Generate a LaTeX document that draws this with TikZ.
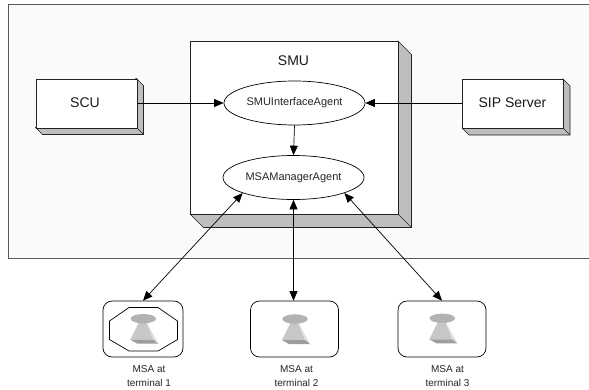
\documentclass[tikz,border=0pt]{standalone}
\usepackage{fontspec}
\setmainfont{Liberation Sans}
\usetikzlibrary{arrows.meta,shapes.geometric}
\definecolor{bgc}{HTML}{FAFAFA}
\definecolor{sidegray}{HTML}{BEBEBE}
\definecolor{lnc}{HTML}{222222}
\tikzset{
  x=1pt,y=-1pt,
  lne/.style={draw=lnc,line width=0.8pt},
  conn/.style={draw=black,line width=0.7pt},
  tipped/.style={conn,-{Triangle[length=9.5pt,width=8pt]}},
  both/.style={conn,{Triangle[length=9.5pt,width=8pt]}-{Triangle[length=9.5pt,width=8pt]}},
  agent/.style={ellipse,draw=black,line width=0.7pt,fill=white,inner sep=0pt,minimum width=141pt,minimum height=44pt,font=\fontsize{11pt}{12pt}\selectfont,text=black!85},
  boxtext/.style={font=\fontsize{14pt}{16pt}\selectfont,text=black!90},
  terminal/.style={rectangle,rounded corners=9pt,draw=black,line width=0.7pt,fill=white,minimum height=56pt,inner sep=0pt},
  caption/.style={font=\fontsize{10pt}{14pt}\selectfont,align=center,text=black!85},
}
\newcommand{\bbox}[6]{% name x1 y1 x2 y2 depth
  \fill[sidegray,draw=lnc,line width=0.7pt] (#4,#3) -- (#4+#6,#3+#6) -- (#4+#6,#5+#6) -- (#2+#6,#5+#6) -- (#2,#5) -- cycle;
  \draw[lnc,line width=0.7pt] (#4,#5) -- (#4+#6,#5+#6);
  \node[lne,fill=white,minimum width=#4pt-#2pt,minimum height=#5pt-#3pt,inner sep=0pt,anchor=north west] (#1) at (#2,#3) {};
}
\newcommand{\coneicon}[2]{%
  \begin{scope}[shift={(#1,#2)}]
    \fill[black!22] (-4,3) -- (3,3) -- (10,21) -- (-13,21) -- cycle;
    \fill[black!12] (3,3) -- (15,25) -- (10,21) -- cycle;
    \fill[black!38] (-13,21) -- (-6,25) -- (15,25) -- (10,21) -- cycle;
    \fill[black!30] (0,0) ellipse [x radius=12.7,y radius=4.7];
  \end{scope}
}
\begin{document}
\begin{tikzpicture}
\useasboundingbox (0,0) rectangle (589,389);
\fill[white] (0,0) rectangle (589,389);
\fill[bgc,draw=black!65,line width=0.8pt] (8,4) -- (589.5,4) -- (589.5,258) -- (8,258) -- cycle;
\bbox{smu}{190}{41}{398}{214}{13.5}
\bbox{scu}{35.5}{78.5}{136.5}{127.5}{7}
\bbox{sip}{462}{79}{563}{128}{7}
\node[boxtext] at (85,103) {SCU};
\node[boxtext] at (512.5,103) {SIP Server};
\node[boxtext] at (293.5,61) {SMU};
\node[agent] (ia) at (294.5,103) {SMUInterfaceAgent};
\node[agent] (mm) at (293.5,177.5) {MSAManagerAgent};
\node[terminal,minimum width=80pt] (t1) at (143,329) {};
\node[terminal,minimum width=88pt] (t2) at (294.5,329) {};
\node[terminal,minimum width=88pt] (t3) at (442,329) {};
\draw[black,line width=0.7pt] (129,307.5) -- (158,307.5) -- (177.5,321) -- (177.5,339.5) -- (158,351) -- (129,351) -- (109.5,339.5) -- (109.5,321) -- cycle;
\coneicon{143.3}{318.7}
\coneicon{295}{319}
\coneicon{442.3}{318.3}
\node[caption] (c1) at (149,376) {MSA at\\terminal 1};
\node[caption] (c2) at (296.5,376) {MSA at\\terminal 2};
\node[caption] (c3) at (447.5,376) {MSA at\\terminal 3};
\draw[tipped] (scu.east |- ia.west) -- (ia.west);
\draw[tipped] (sip.west |- ia.east) -- (ia.east);
\draw[tipped] (ia.south) -- (mm.north);
\draw[both] (t1.north) -- (mm.197);
\draw[both] (mm.south) -- (mm.south |- t2.north);
\draw[both] (t3.north) -- (mm.343);
\end{tikzpicture}
\end{document}
